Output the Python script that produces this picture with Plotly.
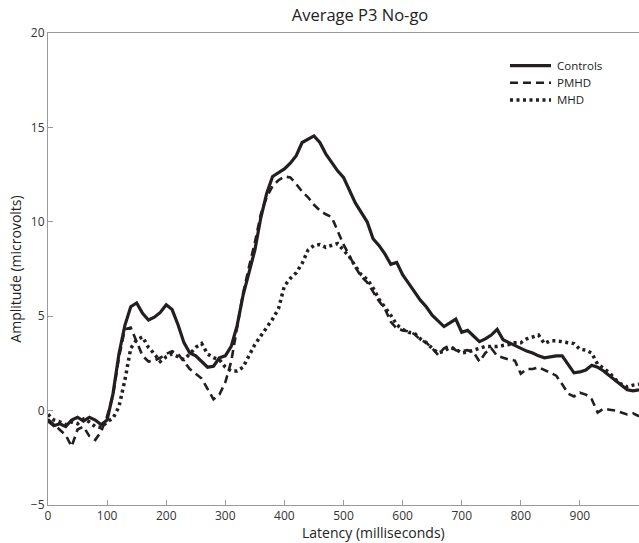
import plotly.graph_objects as go

latency = list(range(0, 1001, 10))

controls = [-0.55, -0.8, -0.7, -0.85, -0.5, -0.35, -0.55, -0.35, -0.5, -0.75,
            -0.5, 0.9, 3.0, 4.5, 5.5, 5.7, 5.15, 4.8, 4.95, 5.2,
            5.6, 5.35, 4.55, 3.6, 3.05, 2.9, 2.6, 2.3, 2.35, 2.8,
            2.9, 3.4, 4.5, 6.1, 7.3, 8.5, 10.2, 11.5, 12.4, 12.6,
            12.8, 13.1, 13.5, 14.2, 14.4, 14.55, 14.2, 13.6, 13.15, 12.7,
            12.35, 11.65, 11.0, 10.5, 10.0, 9.1, 8.75, 8.3, 7.75, 7.85,
            7.2, 6.75, 6.3, 5.85, 5.5, 5.05, 4.75, 4.45, 4.65, 4.85,
            4.15, 4.25, 3.95, 3.65, 3.8, 4.0, 4.3, 3.75, 3.6, 3.45,
            3.3, 3.15, 3.05, 2.9, 2.8, 2.85, 2.9, 2.9, 2.45, 2.0,
            2.05, 2.15, 2.4, 2.3, 2.1, 1.85, 1.55, 1.3, 1.1, 1.05,
            1.1]

pmhd = [-0.45, -0.75, -1.0, -1.3, -1.9, -1.0, -0.85, -1.35, -1.55, -1.1,
        -0.3, 0.8, 2.8, 4.3, 4.4, 3.6, 2.9, 2.6, 2.65, 2.8,
        3.0, 3.15, 3.0, 2.6, 2.2, 1.95, 1.7, 1.15, 0.6, 0.85,
        1.5, 2.6, 4.3, 6.2, 7.6, 8.9, 10.4, 11.3, 11.9, 12.2,
        12.4, 12.35, 12.0, 11.6, 11.3, 10.9, 10.6, 10.4, 10.25, 9.5,
        8.8, 8.2, 7.6, 7.1, 6.8, 6.3, 5.8, 5.4, 4.7, 4.35,
        4.25, 4.2, 4.05, 3.75, 3.6, 3.3, 2.95, 3.3, 3.45, 3.2,
        3.15, 3.2, 3.1, 2.6, 3.05, 3.3, 2.9, 2.8, 2.7, 2.65,
        1.95, 2.2, 2.2, 2.3, 2.15, 2.0, 1.85, 1.4, 0.9, 0.75,
        0.95, 0.85, 0.6, -0.1, 0.1, 0.05, 0.0, -0.1, -0.2, -0.15,
        -0.3]

mhd = [-0.2, -0.5, -0.6, -0.75, -0.6, -0.7, -0.45, -0.6, -0.85, -0.9,
       -0.6, -0.4, 0.2, 1.6, 3.3, 3.75, 3.9, 3.35, 3.0, 2.6,
       2.85, 3.0, 2.85, 2.7, 3.0, 3.35, 3.55, 3.0, 2.8, 2.7,
       2.3, 2.1, 2.1, 2.3, 2.9, 3.5, 3.95, 4.4, 4.85, 5.4,
       6.6, 7.0, 7.3, 7.8, 8.5, 8.75, 8.8, 8.65, 8.75, 8.85,
       8.5, 8.15, 7.65, 7.2, 6.95, 6.5, 5.9, 5.5, 5.05, 4.55,
       4.3, 4.15, 4.1, 3.8, 3.6, 3.3, 3.05, 3.15, 3.35, 3.25,
       3.05, 3.1, 3.2, 3.3, 3.4, 3.4, 3.4, 3.45, 3.5, 3.6,
       3.6, 3.8, 3.9, 4.0, 3.55, 3.7, 3.7, 3.65, 3.6, 3.55,
       3.25, 3.2, 3.05, 2.45, 2.25, 2.0, 1.65, 1.4, 1.25, 1.35,
       1.4]

series_names = ["Controls", "PMHD", "MHD"]
x_ticks = [0, 100, 200, 300, 400, 500, 600, 700, 800, 900]
y_ticks = [-5, 0, 5, 10, 15, 20]

INK = "#231f20"
FONT = "Open Sans"
styles = [dict(width=3.2, dash="solid"),
          dict(width=2.6, dash="8px,5px"),
          dict(width=3.5, dash="3px,3.5px")]

fig = go.Figure()
for name, ys, st in zip(series_names, [controls, pmhd, mhd], styles):
    fig.add_trace(go.Scatter(x=latency, y=ys, mode="lines", name=name,
                             showlegend=False,
                             line=dict(color=INK, width=st["width"], dash=st["dash"])))

# legend drawn as key samples + real text labels (paper coordinates)
leg_y = [0.9307, 0.8947, 0.8581]
for name, st, ly in zip(series_names, styles, leg_y):
    fig.add_shape(type="line", xref="paper", yref="paper",
                  x0=0.7817, x1=0.8511, y0=ly, y1=ly,
                  line=dict(color=INK, width=st["width"], dash=st["dash"]))
    fig.add_annotation(text=name, xref="paper", yref="paper", x=0.858, y=ly,
                       xanchor="left", yanchor="middle", showarrow=False,
                       font=dict(family=FONT, size=11.5, color="#222222"))

fig.add_annotation(text="Latency (milliseconds)", xref="paper", yref="paper",
                   x=0.5516, y=-0.0593, xanchor="center", yanchor="middle",
                   showarrow=False,
                   font=dict(family=FONT, size=14, color="#222222"))

axis_common = dict(showgrid=False, zeroline=False, showline=True,
                   linecolor="#9a9a9a", linewidth=1, ticks="inside",
                   ticklen=5, tickcolor="#9a9a9a",
                   tickfont=dict(family=FONT, size=12, color="#333333"))

fig.update_layout(
    width=639, height=543,
    margin=dict(l=48, r=0, t=33, b=38, autoexpand=False),
    paper_bgcolor="white", plot_bgcolor="white",
    title=dict(text="Average P3 No-go", x=360 / 639, xanchor="center",
               y=1 - 15.5 / 543, yanchor="middle",
               font=dict(family=FONT, size=16.5, color="#222222")),
    showlegend=False,
    hovermode=False,
    font=dict(family=FONT, color="#222222"),
)
fig.update_xaxes(range=[0, 1000], tickvals=x_ticks, mirror=True,
                 **axis_common)
fig.update_yaxes(range=[-5, 20], tickvals=y_ticks,
                 title=dict(text="Amplitude (microvolts)", standoff=5,
                            font=dict(family=FONT, size=14, color="#222222")),
                 **axis_common)

fig.write_html("out.html",
               config={"displayModeBar": False, "staticPlot": True},
               post_script="document.body.style.margin='0';"
                           "document.body.style.overflow='hidden';")
